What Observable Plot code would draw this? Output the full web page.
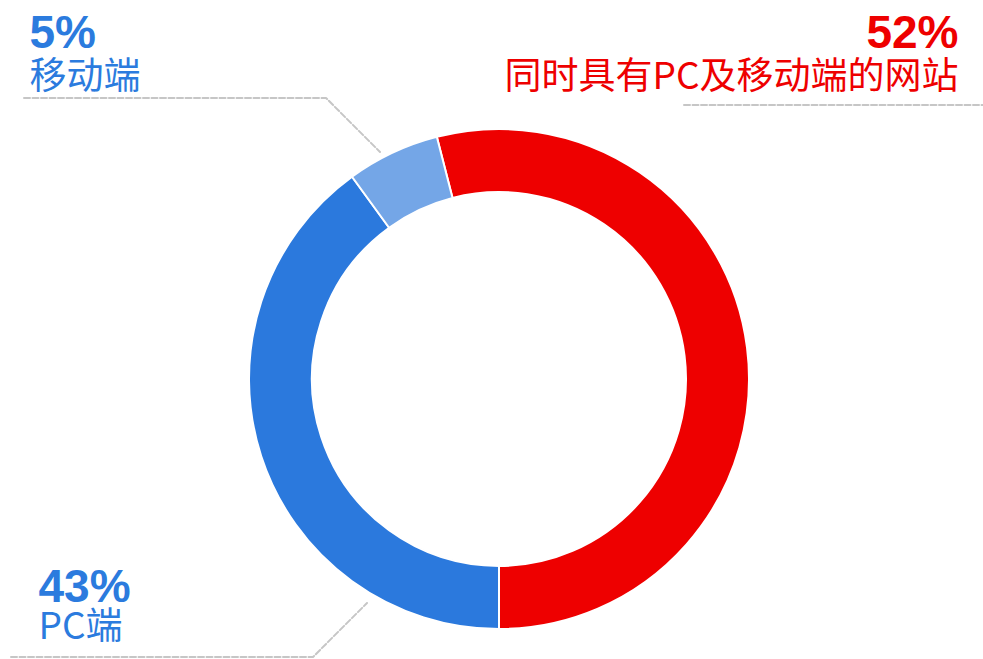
<!DOCTYPE html>
<html><head><meta charset="utf-8">
<script src="https://cdn.jsdelivr.net/npm/d3@7"></script>
<script src="https://cdn.jsdelivr.net/npm/@observablehq/plot@0.6"></script>
<style>
body{margin:0;background:#fff;}
#chart{width:983px;height:659px;}
</style>
</head><body><div id="chart"></div>
<script>
// ---- data ----
const categories = ["同时具有PC及移动端的网站", "PC端", "移动端"];
const values = [54, 40, 6];            // slice sizes as drawn in the ring
const pctLabels = ["52%", "43%", "5%"]; // printed percentages
const colors = ["#ee0000", "#2b79dd", "#74a6e7"];
const textColors = ["#ee0000", "#2b7bde", "#2b7bde"];

// ---- layout (pixel space of the 983x659 frame) ----
const W = 983, H = 659;
const center = [499, 379];
const outerR = 249, innerR = 188;
const labelPos = [
  {x: 958, yPct: 47, yName: 88, anchor: "end"},
  {x: 38, yPct: 601, yName: 638, anchor: "start"},
  {x: 29, yPct: 47, yName: 88, anchor: "start"}
];
const leaders = [
  [[684, 105], [983, 105]],
  [[11, 657], [313, 657], [367, 603]],
  [[24, 98], [326, 98], [380, 152]]
];

const labelData = categories.map((c, i) => ({
  name: c, pct: pctLabels[i], color: textColors[i],
  x: labelPos[i].x, yPct: labelPos[i].yPct, yName: labelPos[i].yName, anchor: labelPos[i].anchor
}));
const leaderData = leaders.flatMap((pts, k) => pts.map(([x, y]) => ({k, x, y})));

function donut(index, scales) {
  const sx = scales && scales.x ? scales.x : (v) => v;
  const sy = scales && scales.y ? scales.y : (v) => v;
  const cx = sx(center[0]), cy = sy(center[1]);
  const ro = sx(center[0] + outerR) - cx + 1;
  const ri = sx(center[0] + innerR) - cx - 1;
  const total = d3.sum(values);
  const start = Math.PI - values[0] / total * 2 * Math.PI;
  const arcs = d3.pie().sort(null).startAngle(start).endAngle(start + 2 * Math.PI)(values);
  const arc = d3.arc().innerRadius(ri).outerRadius(ro);
  const g = d3.create("svg:g").attr("transform", `translate(${cx},${cy})`);
  g.selectAll("path").data(arcs).join("path")
    .attr("d", arc)
    .attr("fill", (d, i) => colors[i])
    .attr("stroke", "#fff")
    .attr("stroke-width", 2);
  return g.node();
}

const pctFont = "'Liberation Sans', Arial, sans-serif";
const cjkFont = "'Noto Sans CJK SC', 'Noto Sans', sans-serif";

const marks = [
  Plot.line(leaderData, {x: "x", y: "y", z: "k", stroke: "#c6c6c6", strokeWidth: 2, strokeDasharray: "6,2.5",
    curve: "linear", dx: -0.5, dy: -0.5}),
  donut
];
labelData.forEach(d => {
  marks.push(Plot.text([d], {x: "x", y: "yPct", text: "pct", fill: d.color, textAnchor: d.anchor, lineAnchor: "bottom",
    fontSize: 46, fontWeight: "bold", fontFamily: pctFont}));
  marks.push(Plot.text([d], {x: "x", y: "yName", text: "name", fill: d.color, textAnchor: d.anchor, lineAnchor: "bottom",
    fontSize: 37, fontFamily: cjkFont}));
});

const chart = Plot.plot({
  width: W, height: H,
  margin: 0,
  x: {domain: [0, W], range: [0, W], axis: null},
  y: {domain: [0, H], range: [0, H], axis: null},
  style: {background: "#fff", overflow: "visible"},
  marks
});
document.getElementById("chart").append(chart);
</script>
</body></html>
